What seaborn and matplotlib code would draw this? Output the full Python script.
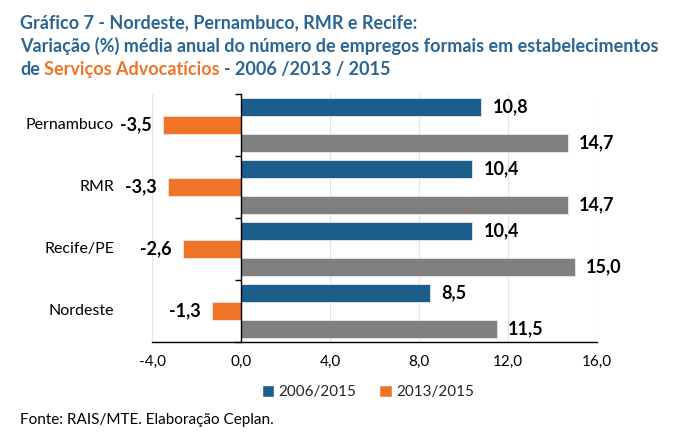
import matplotlib
matplotlib.use("Agg")
import matplotlib.pyplot as plt
import seaborn as sns
import pandas as pd
from matplotlib.patches import Patch

categorias = ["Pernambuco", "RMR", "Recife/PE", "Nordeste"]
serie_2006_2015 = [10.8, 10.4, 10.4, 8.5]
serie_2013_2015 = [-3.5, -3.3, -2.6, -1.3]
serie_cinza = [14.7, 14.7, 15.0, 11.5]
nomes_series = ["2006/2015", "2013/2015", "cinza"]
ticks_x = [-4, 0, 4, 8, 12, 16]

AZUL = "#1B5E8C"
LARANJA = "#F07427"
CINZA = "#7F7F7F"
TITULO = "#2A6592"

sns.set_theme(style="white")
plt.rcParams["font.family"] = ["Lato", "DejaVu Sans"]

rows = []
for i, c in enumerate(categorias):
    for nome, vals in zip(nomes_series, [serie_2006_2015, serie_2013_2015, serie_cinza]):
        rows.append({"categoria": c, "serie": nome, "valor": vals[i]})
df = pd.DataFrame(rows)

fig = plt.figure(figsize=(6.8, 4.46), dpi=100)
ax = fig.add_axes([152 / 680, 1 - 342 / 446, 445 / 680, 248 / 446])

sns.barplot(data=df, y="categoria", x="valor", hue="serie", order=categorias,
            hue_order=nomes_series, palette=[AZUL, LARANJA, CINZA], orient="h",
            width=0.87, dodge=True, saturation=1, edgecolor="#E8E8E8", linewidth=0.6,
            legend=False, ax=ax, zorder=3)

ax.set_xlim(-4, 16)
ax.set_ylim(3.5, -0.5)
ax.set_xticks(ticks_x)
ax.set_xticklabels([f"{t:.1f}".replace(".", ",") for t in ticks_x], fontsize=11)
ax.set_yticks([-0.5, 0.5, 1.5, 2.5, 3.5])
ax.set_yticklabels([])
ax.set_xlabel("")
ax.set_ylabel("")
ax.grid(axis="x", color="#E3E3E3", linewidth=0.8, zorder=0)
ax.set_axisbelow(True)
for s in ["top", "right"]:
    ax.spines[s].set_visible(False)
ax.spines["left"].set_position(("data", 0))
ax.spines["left"].set_color("black")
ax.spines["left"].set_linewidth(1.0)
ax.spines["left"].set_zorder(5)
ax.spines["bottom"].set_color("black")
ax.spines["bottom"].set_linewidth(1.0)
ax.tick_params(axis="x", direction="out", length=5, width=1, color="black", pad=4, labelcolor="black")
ax.tick_params(axis="y", direction="out", length=4, width=1, color="black", left=True)

# category labels
for i, c in enumerate(categorias):
    ax.text(-0.085, i, c, transform=ax.get_yaxis_transform(), ha="right", va="center",
            fontsize=11.5, color="black")

# value labels
for cont in ax.containers:
    for bar in cont:
        w = bar.get_width()
        yc = bar.get_y() + bar.get_height() / 2
        lab = f"{w:.1f}".replace(".", ",")
        if w >= 0:
            ax.annotate(lab, (w, yc), xytext=(8, 0), textcoords="offset points",
                        ha="left", va="center", fontsize=13, fontweight="bold", color="black")
        else:
            ax.annotate(lab, (w, yc), xytext=(-8, 0), textcoords="offset points",
                        ha="right", va="center", fontsize=13, fontweight="bold", color="black")

# legend
handles = [Patch(facecolor=AZUL, label=nomes_series[0]), Patch(facecolor=LARANJA, label=nomes_series[1])]
fig.legend(handles=handles, loc="center", bbox_to_anchor=(368 / 680, 1 - 392 / 446), ncol=2,
           frameon=False, fontsize=11, handlelength=0.8, handleheight=0.8, handletextpad=0.3,
           columnspacing=1.5)

# title
tkw = dict(fontsize=13, fontweight="bold", va="baseline", ha="left")
fig.text(20 / 680, 1 - 28 / 446, "Gráfico 7 - Nordeste, Pernambuco, RMR e Recife:", color=TITULO, **tkw)
fig.text(20 / 680, 1 - 52 / 446, "Variação (%) média anual do número de empregos formais em estabelecimentos",
         color=TITULO, **tkw)
fig.canvas.draw()
r = fig.canvas.get_renderer()
x = 20
gap = 4.5
for piece, col in [("de", TITULO), ("Serviços Advocatícios", LARANJA), ("- 2006 /2013 / 2015", TITULO)]:
    t = fig.text(x / 680, 1 - 75 / 446, piece, color=col, **tkw)
    bb = t.get_window_extent(renderer=r)
    x = bb.x1 + gap

fig.text(20 / 680, 1 - 424 / 446, "Fonte: RAIS/MTE. Elaboração Ceplan.", fontsize=11, color="black",
         ha="left", va="baseline")

fig.savefig("out.png", dpi=100)
